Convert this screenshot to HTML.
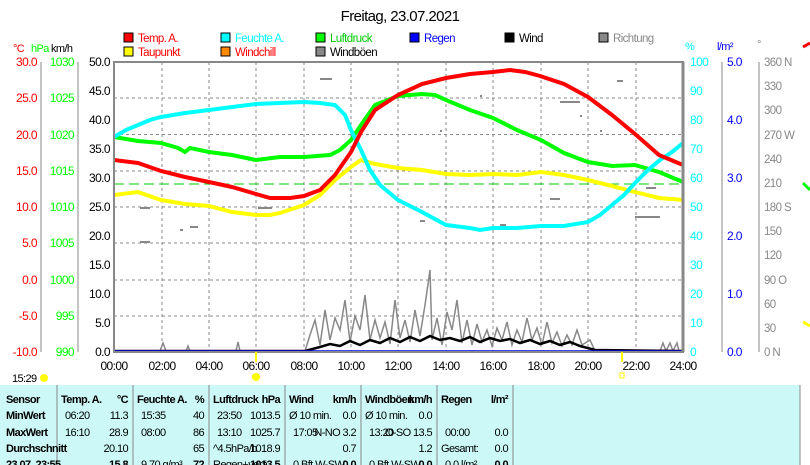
<!DOCTYPE html>
<html><head><meta charset="utf-8"><style>
body{margin:0;background:#fff;width:810px;height:465px;overflow:hidden;font-family:"Liberation Sans",sans-serif}
svg{position:absolute;left:0;top:0}
.n{letter-spacing:-0.6px}
</style></head><body>
<svg width="810" height="465" viewBox="0 0 810 465" font-family="Liberation Sans, sans-serif" font-size="12">
<text x="400" y="21" font-size="15" text-anchor="middle" fill="#000" class="n">Freitag, 23.07.2021</text>
<g font-size="11.5" class="n">
<rect x="124" y="33" width="9" height="9" fill="#f00" stroke="#000"/><text x="138" y="42" fill="#f00">Temp. A.</text>
<rect x="124" y="47" width="9" height="9" fill="#ff0" stroke="#000"/><text x="138" y="56" fill="#f00">Taupunkt</text>
<rect x="221" y="33" width="9" height="9" fill="#0ff" stroke="#000"/><text x="235" y="42" fill="#0ff">Feuchte A.</text>
<rect x="221" y="47" width="9" height="9" fill="#f80" stroke="#000"/><text x="235" y="56" fill="#f00">Windchill</text>
<rect x="316" y="33" width="9" height="9" fill="#0f0" stroke="#000"/><text x="330" y="42" fill="#0c0">Luftdruck</text>
<rect x="316" y="47" width="9" height="9" fill="#888" stroke="#000"/><text x="330" y="56" fill="#000">Windböen</text>
<rect x="410" y="33" width="9" height="9" fill="#00f" stroke="#000"/><text x="424" y="42" fill="#00f">Regen</text>
<rect x="505" y="33" width="9" height="9" fill="#000" stroke="#000"/><text x="519" y="42" fill="#000">Wind</text>
<rect x="599" y="33" width="9" height="9" fill="#888" stroke="#000"/><text x="613" y="42" fill="#888">Richtung</text>
</g>
<g font-size="11" class="n"><text x="13" y="52" fill="#f00">°C</text><text x="31" y="52" fill="#0f0">hPa</text><text x="51" y="52" fill="#000">km/h</text>
<text x="685" y="50" fill="#0ff">%</text><text x="717" y="50" fill="#00f">l/m²</text><text x="757" y="48" fill="#888">°</text></g>
<g stroke="#888" stroke-dasharray="3,3" stroke-width="1">
<line x1="114" y1="98" x2="683" y2="98"/><line x1="114" y1="134.5" x2="683" y2="134.5"/><line x1="114" y1="171" x2="683" y2="171"/><line x1="114" y1="207" x2="683" y2="207"/><line x1="114" y1="243" x2="683" y2="243"/><line x1="114" y1="280" x2="683" y2="280"/><line x1="114" y1="316" x2="683" y2="316"/>
<line x1="162" y1="62" x2="162" y2="352"/><line x1="209" y1="62" x2="209" y2="352"/><line x1="256" y1="62" x2="256" y2="352"/><line x1="304" y1="62" x2="304" y2="352"/><line x1="351" y1="62" x2="351" y2="352"/><line x1="398" y1="62" x2="398" y2="352"/><line x1="446" y1="62" x2="446" y2="352"/><line x1="493" y1="62" x2="493" y2="352"/><line x1="541" y1="62" x2="541" y2="352"/><line x1="588" y1="62" x2="588" y2="352"/><line x1="636" y1="62" x2="636" y2="352"/>
</g>
<line x1="114" y1="184" x2="683" y2="184" stroke="#0c0" stroke-dasharray="10,5"/>
<g fill="#888"><rect x="320" y="78" width="12" height="2"/><rect x="617" y="80" width="6" height="2"/><rect x="140" y="207" width="10" height="2"/><rect x="258" y="207" width="14" height="2"/><rect x="560" y="101" width="20" height="2"/><rect x="635" y="216" width="25" height="2"/><rect x="550" y="198" width="10" height="2"/><rect x="190" y="226" width="8" height="2"/><rect x="140" y="241" width="10" height="2"/><rect x="180" y="229" width="3" height="2"/><rect x="420" y="220" width="5" height="2"/><rect x="500" y="224" width="6" height="2"/><rect x="646" y="187" width="10" height="2"/><rect x="480" y="95" width="2" height="2"/><rect x="580" y="115" width="2" height="2"/><rect x="440" y="130" width="2" height="2"/><rect x="600" y="130" width="2" height="2"/></g>
<polyline fill="none" stroke="#888" stroke-width="1.5" points="114,351 160,351 163,343 166,351 186,351 188,346 190,351 236,351 238,342 240,351 305,351 310,335 315,320 320,345 325,310 330,340 335,318 340,330 345,300 350,342 355,316 360,330 365,295 370,340 375,320 380,338 385,322 390,344 395,300 400,338 405,320 410,342 415,310 420,336 425,305 430,270 432,340 437,318 442,345 447,312 452,330 457,300 462,343 467,320 472,345 477,324 482,342 487,330 492,346 497,328 502,340 507,322 512,345 517,330 522,342 527,318 532,340 537,328 542,345 547,322 552,343 557,332 562,346 567,335 572,345 577,330 582,345 590,340 595,351 660,351 663,343 666,351 670,343 673,351 677,343 679,351 683,351"/>
<polyline fill="none" stroke="#000" stroke-width="2.5" points="114,351 305,351 320,347 330,344 340,346 350,341 360,345 370,340 380,343 390,338 400,342 410,337 420,341 430,336 440,340 450,338 460,341 470,337 480,342 490,338 500,341 510,339 520,343 530,340 540,344 550,341 560,345 570,342 580,346 595,350 683,351"/>
<line x1="114" y1="351" x2="683" y2="351" stroke="#00f" stroke-width="1.5"/>
<polyline fill="none" stroke="#ff0" stroke-width="4" points="114,195 138,192 161,200 185,204 209,206 232,212 256,215 270,215 280,213 304,205 320,195 335,180 351,167 361,160 375,164 398,168 422,170 446,174 470,175 493,174 517,175 541,172 564,175 588,180 612,186 635,192 659,198 683,200"/>
<polyline fill="none" stroke="#0f0" stroke-width="4" points="114,137 138,141 161,143 178,148 185,152 190,148 209,152 232,155 256,160 280,157 304,157 330,155 340,150 351,140 361,125 375,105 398,96 422,94 435,95 446,100 470,110 493,118 517,130 541,140 564,153 588,162 612,166 635,165 659,172 683,182"/>
<polyline fill="none" stroke="#0ff" stroke-width="4" points="114,137 126,130 138,125 150,120 161,117 185,113 209,110 232,107 256,104 280,103 304,102 320,103 335,105 345,115 351,130 361,150 370,170 380,185 398,200 422,212 446,225 470,228 480,230 493,228 517,228 541,226 564,226 588,222 600,215 612,205 624,195 636,182 648,170 660,160 672,152 683,143"/>
<polyline fill="none" stroke="#f00" stroke-width="4" points="114,160 138,163 161,171 185,177 209,182 232,187 256,194 270,198 290,198 304,196 320,190 335,175 351,152 361,132 375,110 398,95 422,84 446,78 470,74 493,72 510,70 525,72 540,76 564,84 588,97 612,115 635,134 659,155 683,165"/>
<rect x="114" y="62" width="569" height="290" fill="none" stroke="#888" stroke-width="2"/>
<line x1="683" y1="62" x2="683" y2="352" stroke="#888" stroke-width="3"/>
<g stroke="#888"><line x1="41" y1="62" x2="41" y2="352"/><line x1="78" y1="62" x2="78" y2="352"/><line x1="722" y1="62" x2="722" y2="352"/><line x1="759" y1="62" x2="759" y2="352"/></g>
<g fill="#f00" text-anchor="end" class="n">
<text x="37" y="66">30.0</text><text x="37" y="102">25.0</text><text x="37" y="139">20.0</text><text x="37" y="175">15.0</text><text x="37" y="211">10.0</text><text x="37" y="247">5.0</text><text x="37" y="284">0.0</text><text x="37" y="320">-5.0</text><text x="37" y="356">-10.0</text></g>
<g fill="#0f0" text-anchor="end" class="n"><text x="74" y="66">1030</text><text x="74" y="102">1025</text><text x="74" y="139">1020</text><text x="74" y="175">1015</text><text x="74" y="211">1010</text><text x="74" y="247">1005</text><text x="74" y="284">1000</text><text x="74" y="320">995</text><text x="74" y="356">990</text></g>
<g fill="#000" text-anchor="end" class="n"><text x="110" y="66">50.0</text><text x="110" y="95">45.0</text><text x="110" y="124">40.0</text><text x="110" y="153">35.0</text><text x="110" y="182">30.0</text><text x="110" y="211">25.0</text><text x="110" y="240">20.0</text><text x="110" y="269">15.0</text><text x="110" y="298">10.0</text><text x="110" y="327">5.0</text><text x="110" y="356">0.0</text></g>
<g fill="#0ff" class="n"><text x="690" y="66">100</text><text x="690" y="95">90</text><text x="690" y="124">80</text><text x="690" y="153">70</text><text x="690" y="182">60</text><text x="690" y="211">50</text><text x="690" y="240">40</text><text x="690" y="269">30</text><text x="690" y="298">20</text><text x="690" y="327">10</text><text x="690" y="356">0</text></g>
<g fill="#00f" class="n"><text x="727" y="66">5.0</text><text x="727" y="124">4.0</text><text x="727" y="182">3.0</text><text x="727" y="240">2.0</text><text x="727" y="298">1.0</text><text x="727" y="356">0.0</text></g>
<g fill="#888" font-size="11.5" class="n"><text x="764" y="66">360 N</text><text x="764" y="90">330</text><text x="764" y="114">300</text><text x="764" y="139">270 W</text><text x="764" y="163">240</text><text x="764" y="187">210</text><text x="764" y="211">180 S</text><text x="764" y="235">150</text><text x="764" y="259">120</text><text x="764" y="284">90  O</text><text x="764" y="308">60</text><text x="764" y="332">30</text><text x="764" y="356">0   N</text></g>
<g fill="#000" text-anchor="middle" class="n"><text x="114" y="370">00:00</text><text x="162" y="370">02:00</text><text x="209" y="370">04:00</text><text x="256" y="370">06:00</text><text x="304" y="370">08:00</text><text x="351" y="370">10:00</text><text x="398" y="370">12:00</text><text x="446" y="370">14:00</text><text x="493" y="370">16:00</text><text x="541" y="370">18:00</text><text x="588" y="370">20:00</text><text x="636" y="370">22:00</text><text x="683" y="370">24:00</text></g>
<text x="12" y="382" font-size="11" class="n">15:29</text><circle cx="44" cy="378" r="4" fill="#ff0"/><circle cx="256" cy="377" r="4" fill="#ff0"/><line x1="256" y1="352" x2="256" y2="362" stroke="#ff0" stroke-width="2"/><line x1="622" y1="352" x2="622" y2="362" stroke="#ff0" stroke-width="2"/><rect x="620" y="373" width="4" height="5" fill="none" stroke="#ff0"/>
<path d="M803,47 L810,43" stroke="#f00" stroke-width="3"/><path d="M803,183 L810,190" stroke="#0f0" stroke-width="3"/><path d="M803,322 L810,326" stroke="#ff0" stroke-width="3"/>
<rect x="0" y="385" width="800" height="80" fill="#ccf8f8"/>
<g stroke="#888"><line x1="57" y1="385" x2="57" y2="465"/><line x1="133" y1="385" x2="133" y2="465"/><line x1="209" y1="385" x2="209" y2="465"/><line x1="285" y1="385" x2="285" y2="465"/><line x1="361" y1="385" x2="361" y2="465"/><line x1="437" y1="385" x2="437" y2="465"/><line x1="513" y1="385" x2="513" y2="465"/><line x1="800" y1="385" x2="800" y2="465"/></g>
<g font-size="11" font-weight="bold" fill="#000" class="n">
<text x="6" y="403">Sensor</text><text x="6" y="419">MinWert</text><text x="6" y="436">MaxWert</text><text x="6" y="452">Durchschnitt</text><text x="6" y="468">23.07. 23:55</text>
<text x="61" y="403">Temp. A.</text><text x="128" y="403" text-anchor="end">°C</text>
<text x="137" y="403">Feuchte A.</text><text x="204" y="403" text-anchor="end">%</text>
<text x="213" y="403">Luftdruck</text><text x="280" y="403" text-anchor="end">hPa</text>
<text x="289" y="403">Wind</text><text x="356" y="403" text-anchor="end">km/h</text>
<text x="365" y="403">Windböen</text><text x="432" y="403" text-anchor="end">km/h</text>
<text x="441" y="403">Regen</text><text x="508" y="403" text-anchor="end">l/m²</text>
<text x="128" y="468" text-anchor="end">15.8</text><text x="204" y="468" text-anchor="end">72</text><text x="280" y="468" text-anchor="end">1013.5</text><text x="356" y="468" text-anchor="end">0.0</text><text x="432" y="468" text-anchor="end">0.0</text><text x="508" y="468" text-anchor="end">0.0</text>
</g>
<g font-size="11" fill="#000" class="n">
<text x="65" y="419">06:20</text><text x="128" y="419" text-anchor="end">11.3</text><text x="65" y="436">16:10</text><text x="128" y="436" text-anchor="end">28.9</text><text x="128" y="452" text-anchor="end">20.10</text>
<text x="141" y="419">15:35</text><text x="204" y="419" text-anchor="end">40</text><text x="141" y="436">08:00</text><text x="204" y="436" text-anchor="end">86</text><text x="204" y="452" text-anchor="end">65</text><text x="141" y="468">9.70 g/m³</text>
<text x="217" y="419">23:50</text><text x="280" y="419" text-anchor="end">1013.5</text><text x="217" y="436">13:10</text><text x="280" y="436" text-anchor="end">1025.7</text><text x="213" y="452">^4.5hPa/h</text><text x="280" y="452" text-anchor="end">1018.9</text><text x="213" y="468">Regen+verä</text>
<text x="289" y="419">Ø 10 min.</text><text x="356" y="419" text-anchor="end">0.0</text><text x="293" y="436">17:05</text><text x="356" y="436" text-anchor="end">N-NO 3.2</text><text x="356" y="452" text-anchor="end">0.7</text><text x="293" y="468">0 Bft W-SW</text>
<text x="365" y="419">Ø 10 min.</text><text x="432" y="419" text-anchor="end">0.0</text><text x="369" y="436">13:20</text><text x="432" y="436" text-anchor="end">O-SO 13.5</text><text x="432" y="452" text-anchor="end">1.2</text><text x="369" y="468">0 Bft W-SW</text>
<text x="445" y="436">00:00</text><text x="508" y="436" text-anchor="end">0.0</text><text x="441" y="452">Gesamt:</text><text x="508" y="452" text-anchor="end">0.0</text><text x="445" y="468">0.0 l/m²</text>
</g>
</svg>
</body></html>
